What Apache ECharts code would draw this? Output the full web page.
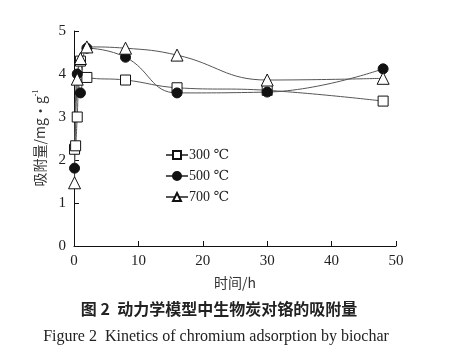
<!DOCTYPE html>
<html><head><meta charset="utf-8">
<script src="https://cdn.jsdelivr.net/npm/echarts@6/dist/echarts.min.js"></script>
<style>html,body{margin:0;padding:0;background:#fff}#c{width:458px;height:360px}</style>
</head><body><div id="c"></div>
<script>
const seriesNames = ['300 ℃', '500 ℃', '700 ℃'];
const t300 = [0.083, 0.25, 0.5, 1, 2, 8, 16, 30, 48];
const q300 = [2.25, 2.33, 3.0, 4.3, 3.92, 3.86, 3.68, 3.62, 3.37];
const t500 = [0.083, 0.5, 1, 2, 8, 16, 30, 48];
const q500 = [1.81, 4.0, 3.56, 4.6, 4.39, 3.56, 3.58, 4.12];
const t700 = [0.083, 0.5, 1, 2, 8, 16, 30, 48];
const q700 = [1.47, 3.88, 4.36, 4.63, 4.6, 4.44, 3.86, 3.9];
const xTicks = [0, 10, 20, 30, 40, 50];
const yTicks = [0, 1, 2, 3, 4, 5];

const zip = (a, b) => a.map((v, i) => [v, b[i]]);
const serif = '"Liberation Serif", "DejaVu Serif", serif';
const cjk = '"Noto Sans CJK SC", sans-serif';
const chart = echarts.init(document.getElementById('c'));
const mk = (name, data, symbol, fill) => ({
  name, type: 'line', data, smooth: 0.45, symbol, symbolSize: symbol === 'triangle' ? 12 : 10,
  lineStyle: { color: '#555', width: 1 },
  itemStyle: { color: fill, borderColor: '#111', borderWidth: 1 },
  emphasis: { disabled: true }
});
chart.setOption({
  animation: false,
  grid: { left: 74, right: 62, top: 31, bottom: 114 },
  xAxis: {
    type: 'value', min: xTicks[0], max: xTicks[xTicks.length - 1], interval: 10,
    axisLine: { lineStyle: { color: '#111' } },
    axisTick: { inside: true, length: 5, lineStyle: { color: '#111' } },
    axisLabel: { color: '#222', fontFamily: serif, fontSize: 15, margin: 8 },
    splitLine: { show: false },
    name: '时间/h', nameLocation: 'middle', nameGap: 30,
    nameTextStyle: { color: '#333', fontFamily: cjk, fontSize: 14 }
  },
  yAxis: {
    type: 'value', min: yTicks[0], max: yTicks[yTicks.length - 1], interval: 1,
    axisLine: { show: true, lineStyle: { color: '#111' } },
    axisTick: { show: true, inside: true, length: 5, lineStyle: { color: '#111' } },
    axisLabel: { color: '#222', fontFamily: serif, fontSize: 15, margin: 8 },
    splitLine: { show: false }
  },
  legend: {
    orient: 'vertical', left: 160, top: 143, itemWidth: 22, itemHeight: 10, itemGap: 7,
    textStyle: { fontFamily: serif, fontSize: 14, color: '#222', padding: [0, 0, 0, -4] },
    data: seriesNames
  },
  graphic: [
    { type: 'text', x: 40, y: 138, rotation: Math.PI / 2,
      style: { text: '吸附量/mg•g{s|-1}', align: 'center', verticalAlign: 'middle',
        font: '14px ' + cjk, fill: '#333',
        rich: { s: { fontSize: 8, verticalAlign: 'top', padding: [0, 0, 9, 0], fill: '#333', fontFamily: serif } } } },
    { type: 'text', x: 219, y: 309,
      style: { text: '图 2  动力学模型中生物炭对铬的吸附量', align: 'center', verticalAlign: 'middle',
        font: 'bold 16px ' + cjk, fill: '#222' } },
    { type: 'text', x: 216, y: 337,
      style: { text: 'Figure 2  Kinetics of chromium adsorption by biochar', align: 'center', verticalAlign: 'middle',
        font: '16px ' + serif, fill: '#222' } }
  ],
  series: [
    mk(seriesNames[0], zip(t300, q300), 'rect', '#fff'),
    mk(seriesNames[1], zip(t500, q500), 'circle', '#111'),
    mk(seriesNames[2], zip(t700, q700), 'triangle', '#fff')
  ]
});
</script></body></html>
